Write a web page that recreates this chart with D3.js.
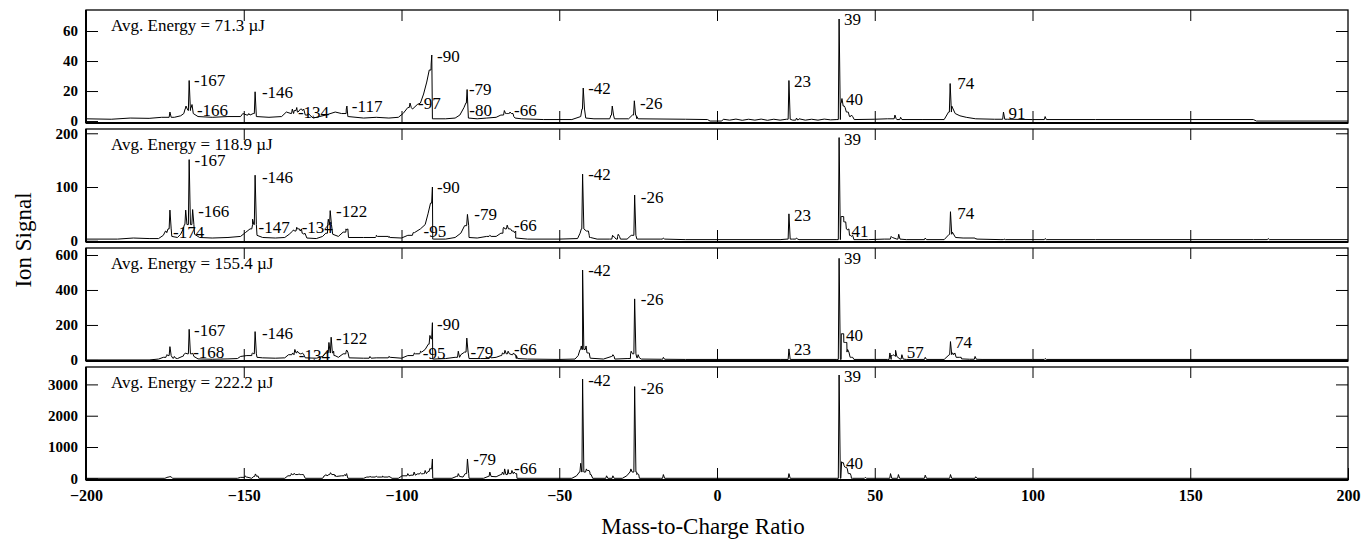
<!DOCTYPE html>
<html>
<head>
<meta charset="utf-8">
<script src="https://cdn.jsdelivr.net/npm/d3@7"></script>
<style>
	body { margin: 0; background: #fff; }
	svg text { font-family: "Liberation Serif", "Tinos", "DejaVu Serif", "Noto Serif", Times, serif; fill: #000; }
</style>
</head>
<body>
<div id="chart"></div>
<script>
// x axis and panel settings
const xTicks = [-200, -150, -100, -50, 0, 50, 100, 150, 200]
const energies = ["71.3", "118.9", "155.4", "222.2"]
const yTicks1 = [0, 20, 40, 60]
const yTicks2 = [0, 100, 200]
const yTicks3 = [0, 200, 400, 600]
const yTicks4 = [0, 1000, 2000, 3000]
const yDomains = [[-1.3, 74], [-2.4, 208], [-6, 640], [-54, 3556]]

// panel 1 : 71.3 uJ  (baseline [m/z, signal], peaks [m/z, signal], labels [text, m/z, signal])
const base1 = [[-200,1.5],[-192,1.2],[-186,2],[-180,1.8],[-176,2.5],[-172,2.5],[-170,3.5],[-169,5],[-168.6,8],[-167.6,7],[-166.8,9],[-166,5],[-164.5,3],[-160,2.5],[-155,3],[-151,3],[-150.3,5],[-149,4],[-147,5],[-146,3],[-142,2.5],[-138,3],[-136.5,6],[-135,5],[-134,7],[-133,6],[-132,8],[-130.5,4],[-128,2],[-126,3],[-124,4],[-121,6],[-119,5],[-117.5,8],[-117,3],[-112,2],[-108,2.5],[-104,2],[-101,2.5],[-99.5,5],[-98,9],[-96.5,8],[-95,11],[-94,12],[-93,18],[-92,26],[-91.2,34],[-90.6,38],[-90.2,1.5],[-86,1.5],[-83,2],[-81.5,4],[-80.2,9],[-79.6,12],[-78.8,2],[-76,1.5],[-73,2],[-70,2.5],[-68.5,4],[-67,5],[-64,2],[-62,1.5],[-55,1],[-46,1],[-43.2,3],[-42.8,8],[-41.6,2],[-39,1.5],[-34,1.5],[-33.6,4],[-32.5,1.5],[-28,1.5],[-26.8,4],[-25.4,1.5],[-10,1.2],[-3,1],[-2.2,0],[1.5,0],[2,1.2],[4,0.6],[6,1.3],[8,0.5],[10,1.2],[12,0.6],[14,1.3],[16,0.5],[18,1.2],[20,0.6],[22,1.2],[24,0.6],[26,1.5],[28,0.6],[30,1.2],[32,0.6],[34,1.3],[36,0.8],[38,1],[39.2,12],[40,10],[41,6],[42,3],[43.5,1],[50,1.2],[54,1.5],[57,1],[65,1],[72,1],[73.4,6],[74.4,10],[75.5,5],[77,3.5],[79,2.5],[82,1.5],[88,1.2],[92,1.2],[100,1],[120,1],[150,1],[170,1],[171,0],[200,0]]
const peaks1 = [[-173.4,6],[-168.3,10],[-167.3,27],[-166.4,11],[-148.4,5],[-146.4,19.5],[-134.6,8],[-133.2,9],[-131.4,7],[-129.5,5],[-117.3,10],[-97.3,12],[-90.4,44],[-79.2,21],[-67.4,7],[-66.5,5],[-65.6,6],[-64.4,3],[-42.4,22],[-33.2,10],[-26.2,13.5],[-25.4,3],[22.8,27],[25.2,2],[38.7,68],[39.6,15],[40.6,9],[41.6,6],[42.6,4],[56.4,4],[58.2,2.5],[73.9,25],[90.8,6],[104,3]]
const labels1 = [["-167",-167.0,27],["-166",-166.1,7.3],["-146",-145.5,19],["-134",-134.1,6.2],["-117",-117.0,10],["-97",-96.0,12],["-90",-90.0,43],["-79",-79.9,21],["-80",-79.8,7.3],["-66",-65.6,7.3],["-42",-42.1,21.8],["-26",-25.7,12.2],["23",23.1,26.7],["39",39.0,67.8],["40",39.6,14.7],["74",74.9,25],["91",91.1,5.5]]

// panel 2 : 118.9 uJ
const base2 = [[-200,3],[-190,3],[-185,5],[-180,4],[-177,4],[-175.5,10],[-174.8,18],[-174,22],[-172.8,8],[-171,6],[-170,12],[-169.2,22],[-168.8,30],[-165.6,12],[-164,6],[-160,5],[-155,6],[-151,8],[-149.5,15],[-148,22],[-147.2,30],[-145.8,10],[-144,6],[-140,5],[-137,6],[-135.6,12],[-134.5,18],[-133,22],[-131.5,14],[-130,5],[-127,4],[-125,8],[-124,14],[-123.4,30],[-121.8,12],[-120,8],[-118.5,16],[-117.6,22],[-116.8,6],[-112,6],[-108,8],[-104,6],[-100,5],[-98,10],[-96,15],[-94,22],[-92.5,30],[-91.6,50],[-90.8,70],[-90.1,3],[-86,3],[-83,6],[-81.2,14],[-80,28],[-78.6,6],[-76,5],[-73,8],[-70,8],[-68.5,14],[-67.8,22],[-65,18],[-63.8,5],[-60,3],[-50,3],[-44.2,4],[-43.4,14],[-43,22],[-41.4,18],[-40.4,6],[-38,3],[-34,3],[-33,8],[-32,3],[-31.5,8],[-30.6,3],[-28.5,3],[-27.2,10],[-25.4,3],[-18,3],[-10,2],[0,2],[20,2],[22.2,3],[24,3],[26,2],[38,2],[39.3,45],[40.2,35],[41,22],[42,10],[43.4,2],[48,2],[53,3],[55.5,6],[57,3],[60,2],[72,2],[73.6,12],[74.6,16],[75.6,6],[78,5],[82,3],[90,2],[120,2],[170,2],[200,2]]
const peaks2 = [[-174.4,15],[-173.4,57],[-168.4,57],[-167.3,151],[-166.2,58],[-147.2,40],[-146.4,122],[-134.2,20],[-133.2,25],[-132.1,18],[-131,12],[-123.2,40],[-122.6,56],[-117.4,20],[-108,10],[-104,8],[-96.3,15],[-90.2,100],[-79.1,49],[-72,10],[-67.6,25],[-66.5,29],[-65.2,20],[-64.2,15],[-42.6,124],[-40.5,10],[-33.1,10],[-31.3,12],[-26.1,85],[-17,5],[22.8,50],[25.2,5],[38.7,192],[39.6,45],[40.4,35],[41.4,20],[42.6,8],[55.2,8],[57.6,12],[66,5],[74,54],[82,4],[91,3],[104,4],[174.7,4]]
const labels2 = [["-167",-166.9,151],["-166",-165.7,56],["-174",-173.7,17],["-146",-145.5,119],["-147",-146.6,25],["-134",-132.9,25],["-122",-122.0,56],["-95",-94.3,18.6],["-90",-90.0,100],["-79",-78.2,49],["-66",-65.6,29],["-42",-42.1,124],["-26",-25.4,82],["23",23.1,48],["39",39.0,190],["41",41.4,18.6],["74",74.9,52]]

// panel 3 : 155.4 uJ
const base3 = [[-200,0],[-180,0],[-177,5],[-175.5,15],[-174.5,25],[-172.5,10],[-171,8],[-169.5,20],[-168.8,35],[-165.8,20],[-164.5,6],[-160,4],[-155,6],[-152,8],[-151,20],[-149,25],[-147.4,35],[-145.8,15],[-144,12],[-140,10],[-137,12],[-135.8,30],[-134,40],[-132,35],[-130.5,12],[-127,10],[-125,20],[-124,40],[-121.4,25],[-120,15],[-118.5,35],[-117.6,45],[-116.6,12],[-112,10],[-108,12],[-104,15],[-100,10],[-98,25],[-96,35],[-94,45],[-92.5,60],[-91.5,90],[-90.6,120],[-90.1,5],[-86,8],[-83,15],[-81.2,30],[-80,45],[-78.6,8],[-75,8],[-72,12],[-70,15],[-68.5,25],[-67.6,35],[-65,30],[-63.6,8],[-60,5],[-50,3],[-45,5],[-44,25],[-43.4,60],[-41.2,40],[-40.2,10],[-36,5],[-33.4,20],[-32.4,5],[-28.5,8],[-27.4,35],[-25.4,12],[-24,5],[-17.6,4],[-10,3],[0,3],[20,3],[38,3],[39.4,150],[40.2,100],[41.2,45],[42.2,15],[43.4,3],[50,3],[54,3],[55.2,25],[56.6,20],[58,5],[60,3],[72,3],[73.6,30],[74.6,40],[75.8,15],[77.5,6],[80,4],[84,3],[100,3],[200,3]]
const peaks3 = [[-174.4,30],[-173.4,76],[-172,20],[-169,30],[-168.4,40],[-167.3,175],[-166.2,40],[-147.2,40],[-146.4,162],[-134.5,40],[-133.8,60],[-133,50],[-131.5,40],[-123,100],[-122.3,130],[-121.5,50],[-117.4,57],[-110,20],[-104,20],[-96,40],[-94,50],[-91,140],[-90.2,213],[-82,50],[-79.3,125],[-72,20],[-68,40],[-67.2,55],[-66.2,50],[-64.5,40],[-63.6,25],[-43,80],[-42.6,514],[-41.5,80],[-40.5,40],[-33,30],[-27.2,50],[-26.1,349],[-25,30],[-17,15],[22.8,63],[38.7,581],[39.6,149],[40.4,100],[41.4,60],[42.6,15],[54.8,40],[55.8,30],[56.6,55],[58.6,30],[66,15],[74,105],[75,30],[77,15],[81.8,20],[104,8]]
const labels3 = [["-167",-167.0,171],["-168",-167.3,47],["-146",-145.5,156],["-134",-133.8,29],["-122",-122.0,124],["-95",-94.5,42],["-90",-90.0,206],["-79",-79.4,47],["-66",-65.6,63],["-42",-42.1,514],["-26",-25.4,347],["23",23.1,63],["39",39.0,581],["40",39.6,143],["57",58.9,47],["74",74.2,105]]

// panel 4 : 222.2 uJ
const base4 = [[-200,0],[-175,0],[-174,40],[-172.5,0],[-152,0],[-151,30],[-149,40],[-147.5,0],[-146.8,60],[-145.2,0],[-137,0],[-136,80],[-135,120],[-131,100],[-130.5,0],[-125,0],[-124.5,80],[-123,120],[-121,60],[-119,80],[-117.6,120],[-117,0],[-112,0],[-111,40],[-106,40],[-103,0],[-101,0],[-99.8,80],[-97,100],[-95,140],[-93,150],[-91.6,220],[-90.7,300],[-90.1,0],[-84,0],[-82.6,60],[-80.5,40],[-79.8,150],[-78.6,0],[-74,0],[-72.5,60],[-70,50],[-68.5,120],[-66,150],[-63.4,0],[-46,0],[-44.5,80],[-43.6,200],[-41.2,250],[-40.2,120],[-39.4,0],[-30,0],[-28.6,80],[-27.6,200],[-25.4,120],[-24.6,0],[-18,0],[38,0],[39.6,500],[40.6,350],[41.6,150],[42.6,0],[200,0]]
const peaks4 = [[-173.4,60],[-149.5,80],[-146.3,140],[-145.5,80],[-135,150],[-134,160],[-133.5,120],[-132.5,140],[-131.5,120],[-124,120],[-122.5,180],[-121,100],[-118,120],[-117.4,150],[-110,60],[-108,70],[-106,70],[-104,60],[-98,150],[-96,200],[-94,180],[-92.5,250],[-91,320],[-90.2,617],[-82,150],[-79.1,617],[-72,200],[-68,200],[-67.3,300],[-66.2,280],[-65,250],[-64.3,200],[-63.5,150],[-43.2,480],[-42.6,3170],[-41.4,300],[-40.3,200],[-35,80],[-33,80],[-27.3,300],[-26.1,2930],[-25.2,150],[-17,120],[22.8,150],[38.7,3300],[39.5,530],[40.3,400],[41.3,300],[42.5,80],[47,30],[55,150],[57.5,120],[66,100],[74,120],[82,50]]
const labels4 = [["-79",-78.5,607],["-66",-65.6,320],["-42",-42.1,3140],["-26",-25.4,2875],["39",39.0,3270],["40",39.6,480]]

const panels = [
	{ energy: energies[0], base: base1, peaks: peaks1, labels: labels1, ticks: yTicks1, domain: yDomains[0] },
	{ energy: energies[1], base: base2, peaks: peaks2, labels: labels2, ticks: yTicks2, domain: yDomains[1] },
	{ energy: energies[2], base: base3, peaks: peaks3, labels: labels3, ticks: yTicks3, domain: yDomains[2] },
	{ energy: energies[3], base: base4, peaks: peaks4, labels: labels4, ticks: yTicks4, domain: yDomains[3] }
]

const serif = '"Liberation Serif", "Tinos", "DejaVu Serif", "Noto Serif", Times, serif'
const svgWidth = 1364
const svgHeight = 541
const left = 86
const right = 1348
const panelTop = 10
const panelStep = 119
const panelHeight = 113

let svg = d3.select("#chart")
	.append("svg")
	.attr("width", svgWidth)
	.attr("height", svgHeight)
	.attr("font-family", serif)
	.style("background", "#fff")

let x = d3.scaleLinear().domain([-200, 200]).range([left, right])

// merge the baseline with the peak spikes, sorted by m/z
function traceOf(base, peaks) {
	let levelAt = mz => {
		let lvl = base[0][1]
		for (const d of base) {
			if (d[0] <= mz) lvl = d[1]
			else break
		}
		return lvl
	}
	let pts = base.map(d => [d[0], d[1]])
	peaks.forEach(([mz, h]) => {
		pts.push([mz - 0.25, levelAt(mz - 0.25)], [mz, h], [mz + 0.4, levelAt(mz + 0.4)])
	})
	return pts.sort((a, b) => a[0] - b[0])
}

function styleAxis(g, size) {
	g.select(".domain").remove()
	g.selectAll("line").attr("stroke", "#000").attr("stroke-width", 1)
	g.attr("font-family", serif).attr("font-size", size)
	g.selectAll("text")
		.style("font-size", size + "px")
		.style("font-weight", "bold")
}

panels.forEach((p, i) => {
	let top = panelTop + i * panelStep
	let bottom = top + panelHeight
	let y = d3.scaleLinear().domain(p.domain).range([bottom, top])

	let g = svg.append("g")

	g.append("clipPath")
		.attr("id", "clip" + i)
		.append("rect")
		.attr("x", left)
		.attr("y", top)
		.attr("width", right - left)
		.attr("height", panelHeight)

	// spectrum trace
	let line = d3.line().x(d => x(d[0])).y(d => y(d[1]))
	g.append("path")
		.datum(traceOf(p.base, p.peaks))
		.attr("clip-path", `url(#clip${i})`)
		.attr("fill", "none")
		.attr("stroke", "#000")
		.attr("stroke-width", 1)
		.attr("d", line)

	// axes with inward ticks
	let innerTicks = xTicks.slice(1, -1)
	g.append("g")
		.attr("transform", `translate(${left},0)`)
		.call(d3.axisLeft(y).tickValues(p.ticks).tickSizeInner(-12).tickSizeOuter(0).tickPadding(8).tickFormat(d3.format("d")))
		.call(a => styleAxis(a, 15))
	g.append("g")
		.attr("transform", `translate(${right},0)`)
		.call(d3.axisRight(y).tickValues(p.ticks.filter(t => t > 0)).tickSizeInner(-12).tickSizeOuter(0).tickFormat(""))
		.call(a => styleAxis(a, 15))
	g.append("g")
		.attr("transform", `translate(0,${top})`)
		.call(d3.axisTop(x).tickValues(innerTicks).tickSizeInner(-11).tickSizeOuter(0).tickFormat(""))
		.call(a => styleAxis(a, 15))
	let last = i === panels.length - 1
	g.append("g")
		.attr("transform", `translate(0,${bottom})`)
		.call(d3.axisBottom(x).tickValues(last ? xTicks : innerTicks).tickSizeInner(-12).tickSizeOuter(0).tickPadding(10).tickFormat(last ? d3.format("d") : ""))
		.call(a => styleAxis(a, 16))

	// frame
	g.append("rect")
		.attr("x", left)
		.attr("y", top)
		.attr("width", right - left)
		.attr("height", panelHeight)
		.attr("fill", "none")
		.attr("stroke", "#000")
		.attr("stroke-width", 1.3)
	g.append("line")
		.attr("x1", left).attr("x2", right)
		.attr("y1", bottom).attr("y2", bottom)
		.attr("stroke", "#000").attr("stroke-width", 2.2)
	g.append("line")
		.attr("x1", left).attr("x2", left)
		.attr("y1", top).attr("y2", bottom)
		.attr("stroke", "#000").attr("stroke-width", 2)

	// energy label
	g.append("text")
		.attr("x", left + 25)
		.attr("y", top + 21)
		.style("font-size", "17px")
		.text(`Avg. Energy = ${p.energy} \u00b5J`)

	// peak labels
	g.selectAll(".peakLabel")
		.data(p.labels)
		.enter()
		.append("text")
		.classed("peakLabel", true)
		.attr("x", d => x(d[1]) + 4)
		.attr("y", d => y(d[2]))
		.attr("dy", "0.35em")
		.style("font-size", "17px")
		.text(d => d[0])
})

// axis titles
svg.append("text")
	.attr("x", 703)
	.attr("y", 534)
	.attr("text-anchor", "middle")
	.style("font-size", "23px")
	.text("Mass-to-Charge Ratio")

svg.append("text")
	.attr("transform", "translate(31, 240) rotate(-90)")
	.attr("text-anchor", "middle")
	.style("font-size", "23px")
	.text("Ion Signal")
</script>
</body>
</html>
